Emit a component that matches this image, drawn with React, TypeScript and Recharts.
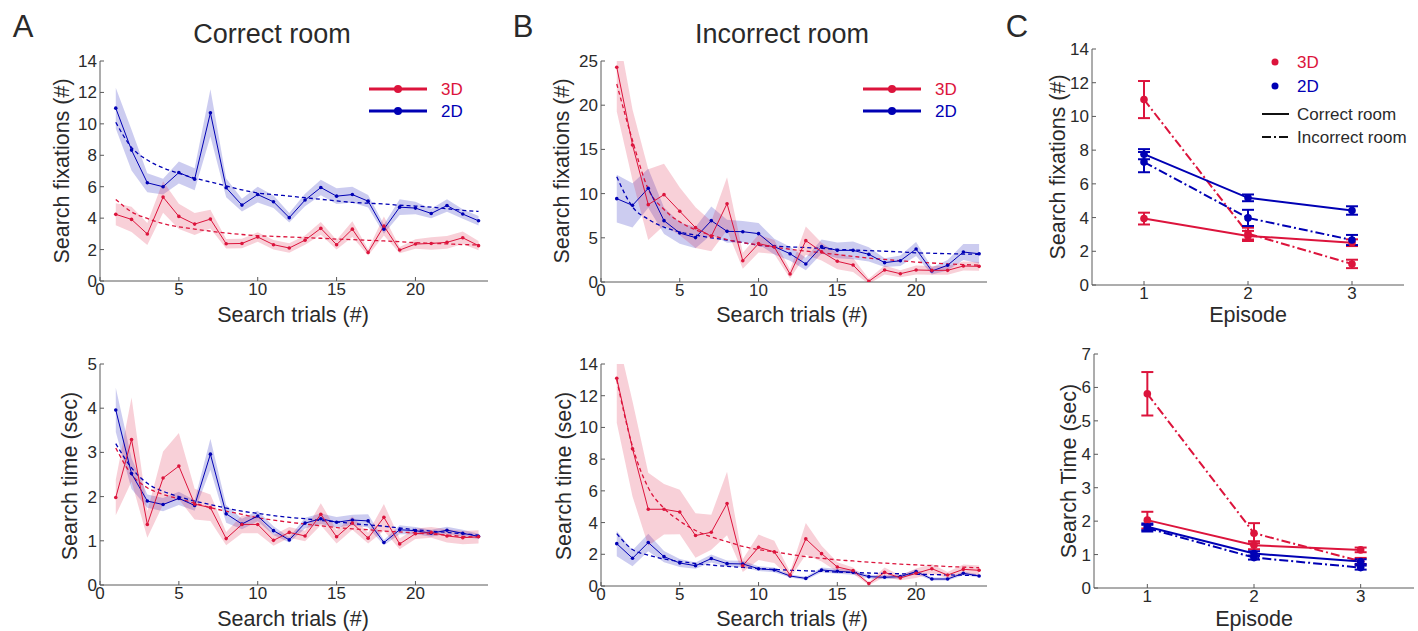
import { ComposedChart, LineChart, Line, Area, XAxis, YAxis, ErrorBar } from 'recharts';

const RED = '#dc143c';
const BLUE = '#0000b4';
const AXIS = '#5a5a5a';
const TEXT = '#2a2a2a';
const FONT = '"Liberation Sans", Arial, Helvetica, sans-serif';

// ---- trial-by-trial data (panels A and B) ----
const trials = [1, 2, 3, 4, 5, 6, 7, 8, 9, 10, 11, 12, 13, 14, 15, 16, 17, 18, 19, 20, 21, 22, 23, 24];
const trialTicks = [0, 5, 10, 15, 20];

// A top: search fixations, correct room
const fixCorr3D = [4.24, 3.92, 2.99, 5.34, 4.11, 3.62, 3.94, 2.37, 2.39, 2.8, 2.31, 2.1, 2.6, 3.35, 2.31, 3.3, 1.82, 3.5, 1.97, 2.35, 2.39, 2.46, 2.75, 2.25];
const fixCorr3DSem = [0.7, 0.8, 0.7, 1.0, 0.8, 0.7, 0.6, 0.3, 0.3, 0.3, 0.3, 0.3, 0.3, 0.4, 0.3, 0.5, 0.2, 0.6, 0.2, 0.3, 0.4, 0.4, 0.4, 0.3];
const fixCorr3DFit = [5.19, 4.4, 3.98, 3.65, 3.45, 3.3, 3.17, 3.05, 2.96, 2.88, 2.84, 2.8, 2.76, 2.72, 2.67, 2.63, 2.59, 2.55, 2.5, 2.44, 2.4, 2.36, 2.32, 2.29];
const fixCorr2D = [11.0, 8.33, 6.25, 6.0, 6.9, 6.48, 10.7, 5.93, 4.83, 5.5, 5.04, 4.03, 5.15, 5.95, 5.4, 5.5, 5.08, 3.3, 4.7, 4.64, 4.3, 4.8, 4.26, 3.83];
const fixCorr2DSem = [1.3, 1.3, 0.6, 0.5, 0.7, 0.7, 1.5, 0.6, 0.4, 0.5, 0.4, 0.3, 0.4, 0.5, 0.5, 0.5, 0.4, 0.3, 0.5, 0.4, 0.3, 0.4, 0.3, 0.3];
const fixCorr2DFit = [10.1, 8.5, 7.7, 7.2, 6.85, 6.55, 6.3, 6.05, 5.8, 5.6, 5.5, 5.4, 5.3, 5.2, 5.1, 5.0, 4.95, 4.9, 4.82, 4.77, 4.7, 4.6, 4.5, 4.43];

// A bottom: search time, correct room
const timeCorr3D = [1.98, 3.29, 1.37, 2.42, 2.69, 1.83, 1.75, 1.05, 1.37, 1.37, 1.01, 1.19, 1.11, 1.6, 1.09, 1.4, 1.06, 1.53, 0.93, 1.16, 1.19, 1.11, 1.07, 1.09];
const timeCorr3DSem = [0.4, 0.95, 0.3, 0.6, 0.75, 0.35, 0.3, 0.15, 0.2, 0.2, 0.12, 0.12, 0.12, 0.25, 0.15, 0.15, 0.12, 0.3, 0.12, 0.12, 0.12, 0.15, 0.15, 0.15];
const timeCorr3DFit = [3.1, 2.5, 2.2, 2.05, 1.95, 1.85, 1.75, 1.67, 1.6, 1.52, 1.47, 1.42, 1.38, 1.34, 1.3, 1.27, 1.25, 1.22, 1.2, 1.18, 1.15, 1.13, 1.1, 1.08];
const timeCorr2D = [3.96, 2.52, 1.9, 1.82, 1.96, 1.8, 2.96, 1.61, 1.38, 1.56, 1.23, 1.02, 1.4, 1.5, 1.42, 1.47, 1.45, 0.96, 1.25, 1.23, 1.17, 1.24, 1.17, 1.1];
const timeCorr2DSem = [0.5, 0.35, 0.15, 0.15, 0.15, 0.12, 0.35, 0.2, 0.12, 0.12, 0.1, 0.06, 0.12, 0.12, 0.12, 0.12, 0.15, 0.06, 0.1, 0.08, 0.08, 0.08, 0.08, 0.06];
const timeCorr2DFit = [3.2, 2.65, 2.3, 2.12, 2.0, 1.9, 1.82, 1.74, 1.67, 1.62, 1.57, 1.53, 1.5, 1.46, 1.43, 1.39, 1.36, 1.33, 1.29, 1.25, 1.22, 1.19, 1.16, 1.13];

// B top: search fixations, incorrect room
const fixInc3D = [24.3, 15.5, 8.75, 9.88, 8.0, 6.15, 5.17, 8.86, 2.41, 4.34, 3.96, 0.9, 4.68, 3.43, 2.34, 1.92, 0.08, 1.36, 0.94, 1.36, 1.32, 1.32, 1.81, 1.77];
const fixInc3DSem = [5.0, 4.0, 4.0, 3.5, 2.7, 2.3, 1.7, 3.0, 0.9, 1.0, 0.8, 0.5, 1.6, 1.0, 0.9, 0.8, 0.3, 0.5, 0.4, 0.5, 0.5, 0.5, 0.5, 0.5];
const fixInc3DFit = [22.4, 16.0, 10.5, 8.2, 6.8, 5.9, 5.3, 4.8, 4.45, 4.2, 3.95, 3.7, 3.5, 3.3, 3.1, 2.9, 2.7, 2.55, 2.4, 2.25, 2.15, 2.05, 1.97, 1.9];
const fixInc2D = [9.43, 8.67, 10.6, 6.94, 5.54, 5.02, 6.94, 5.73, 5.69, 5.47, 4.0, 3.2, 2.04, 4.0, 3.58, 3.58, 3.13, 2.19, 2.41, 3.73, 1.24, 1.89, 3.39, 3.2];
const fixInc2DSem = [2.7, 2.5, 2.2, 1.5, 1.2, 1.2, 1.6, 1.3, 1.2, 1.2, 0.9, 0.8, 0.7, 0.8, 0.9, 1.0, 0.8, 0.5, 0.6, 0.8, 0.4, 0.6, 0.9, 1.1];
const fixInc2DFit = [11.9, 8.5, 7.1, 6.2, 5.66, 5.3, 5.0, 4.75, 4.45, 4.15, 4.05, 3.97, 3.9, 3.8, 3.7, 3.62, 3.55, 3.48, 3.4, 3.3, 3.25, 3.2, 3.16, 3.13];

// B bottom: search time, incorrect room
const timeInc3D = [13.1, 8.65, 4.84, 4.84, 4.67, 3.18, 3.39, 5.2, 1.28, 2.44, 2.15, 0.69, 2.97, 2.04, 1.2, 0.97, 0.15, 0.86, 0.51, 0.8, 1.09, 0.69, 1.05, 0.99];
const timeInc3DSem = [2.8, 3.0, 2.3, 1.6, 1.4, 1.4, 1.1, 2.0, 0.4, 0.8, 0.7, 0.2, 1.0, 0.5, 0.3, 0.2, 0.1, 0.3, 0.15, 0.3, 0.3, 0.2, 0.3, 0.3];
const timeInc3DFit = [13.0, 8.8, 6.2, 4.9, 4.1, 3.5, 3.1, 2.8, 2.5, 2.3, 2.15, 2.0, 1.85, 1.75, 1.65, 1.58, 1.5, 1.44, 1.38, 1.33, 1.28, 1.23, 1.19, 1.15];
const timeInc2D = [2.67, 1.75, 2.74, 1.85, 1.45, 1.28, 1.73, 1.41, 1.39, 1.09, 1.01, 0.63, 0.48, 1.01, 0.93, 0.86, 0.59, 0.55, 0.59, 0.91, 0.44, 0.44, 0.8, 0.63];
const timeInc2DSem = [0.8, 0.5, 0.55, 0.35, 0.25, 0.2, 0.25, 0.2, 0.2, 0.15, 0.15, 0.1, 0.1, 0.15, 0.15, 0.15, 0.12, 0.12, 0.12, 0.15, 0.1, 0.1, 0.12, 0.1];
const timeInc2DFit = [3.3, 2.3, 1.95, 1.7, 1.55, 1.42, 1.32, 1.24, 1.17, 1.1, 1.05, 1.0, 0.96, 0.92, 0.88, 0.85, 0.82, 0.79, 0.77, 0.74, 0.72, 0.7, 0.68, 0.66];

// ---- per-episode data (panel C) ----
const episodes = [1, 2, 3];
const epFix3DCorr = [3.94, 2.91, 2.51];
const epFix3DCorrErr = [0.35, 0.3, 0.2];
const epFix3DInc = [11.0, 3.05, 1.25];
const epFix3DIncErr = [1.1, 0.35, 0.25];
const epFix2DCorr = [7.76, 5.17, 4.42];
const epFix2DCorrErr = [0.3, 0.2, 0.25];
const epFix2DInc = [7.29, 3.98, 2.67];
const epFix2DIncErr = [0.6, 0.48, 0.3];

const epTime3DCorr = [2.03, 1.28, 1.14];
const epTime3DCorrErr = [0.25, 0.12, 0.07];
const epTime3DInc = [5.81, 1.64, 0.8];
const epTime3DIncErr = [0.65, 0.3, 0.1];
const epTime2DCorr = [1.83, 1.03, 0.79];
const epTime2DCorrErr = [0.1, 0.07, 0.07];
const epTime2DInc = [1.79, 0.91, 0.61];
const epTime2DIncErr = [0.1, 0.06, 0.06];

const DASH_DOT = '9 3 2 3';

function trialRows(m3: number[], s3: number[], f3: number[], m2: number[], s2: number[], f2: number[]) {
  return trials.map((t, i) => ({
    t,
    m3: m3[i],
    b3: [m3[i] - s3[i], m3[i] + s3[i]],
    f3: f3[i],
    m2: m2[i],
    b2: [m2[i] - s2[i], m2[i] + s2[i]],
    f2: f2[i],
  }));
}

function epRows(v: number[], e: number[]) {
  return episodes.map((ep, i) => ({ ep, v: v[i], e: e[i] }));
}

const tickStyle = { fill: TEXT, fontSize: 17, fontFamily: FONT };

interface TrialProps {
  x: number;
  y: number;
  w: number;
  h: number;
  xMax: number;
  yMax: number;
  yTicks: number[];
  rows: ReturnType<typeof trialRows>;
}

function TrialPanel({ x, y, w, h, xMax, yMax, yTicks, rows }: TrialProps) {
  return (
    <div style={{ position: 'absolute', left: x - 50, top: y - 10 }}>
      <ComposedChart width={w + 60} height={h + 50} data={rows} margin={{ top: 10, right: 10, left: 0, bottom: 0 }}>
        <XAxis
          dataKey="t"
          type="number"
          domain={[0, xMax]}
          ticks={trialTicks}
          allowDataOverflow
          height={40}
          tickSize={-4}
          tickMargin={6}
          stroke={AXIS}
          tick={tickStyle}
        />
        <YAxis
          type="number"
          domain={[0, yMax]}
          ticks={yTicks}
          allowDataOverflow
          width={50}
          tickSize={-4}
          tickMargin={7}
          stroke={AXIS}
          tick={tickStyle}
        />
        <Area dataKey="b2" type="linear" stroke="none" fill={BLUE} fillOpacity={0.2} isAnimationActive={false} />
        <Area dataKey="b3" type="linear" stroke="none" fill={RED} fillOpacity={0.2} isAnimationActive={false} />
        <Line dataKey="f2" type="monotone" stroke={BLUE} strokeWidth={1.3} strokeDasharray="4 3" dot={false} isAnimationActive={false} />
        <Line dataKey="f3" type="monotone" stroke={RED} strokeWidth={1.3} strokeDasharray="4 3" dot={false} isAnimationActive={false} />
        <Line dataKey="m2" type="linear" stroke={BLUE} strokeWidth={1} dot={{ r: 1.8, fill: BLUE, stroke: 'none' }} isAnimationActive={false} />
        <Line dataKey="m3" type="linear" stroke={RED} strokeWidth={1} dot={{ r: 1.8, fill: RED, stroke: 'none' }} isAnimationActive={false} />
      </ComposedChart>
    </div>
  );
}

interface EpSeries {
  name: string;
  color: string;
  dash?: string;
  rows: ReturnType<typeof epRows>;
}

interface EpProps {
  x: number;
  y: number;
  w: number;
  h: number;
  yMax: number;
  yTicks: number[];
  series: EpSeries[];
}

function EpisodePanel({ x, y, w, h, yMax, yTicks, series }: EpProps) {
  return (
    <div style={{ position: 'absolute', left: x - 50, top: y - 10 }}>
      <LineChart width={w + 60} height={h + 50} margin={{ top: 10, right: 10, left: 0, bottom: 0 }}>
        <XAxis
          dataKey="ep"
          type="number"
          domain={[0.5, 3.5]}
          ticks={episodes}
          allowDataOverflow
          height={40}
          tickSize={-4}
          tickMargin={6}
          stroke={AXIS}
          tick={tickStyle}
        />
        <YAxis
          type="number"
          domain={[0, yMax]}
          ticks={yTicks}
          allowDataOverflow
          width={50}
          tickSize={-4}
          tickMargin={7}
          stroke={AXIS}
          tick={tickStyle}
        />
        {series.map((s) => (
          <Line
            key={s.name}
            data={s.rows}
            dataKey="v"
            name={s.name}
            type="linear"
            stroke={s.color}
            strokeWidth={2}
            strokeDasharray={s.dash}
            dot={{ r: 3.8, fill: s.color, stroke: 'none' }}
            isAnimationActive={false}
          >
            <ErrorBar dataKey="e" width={6} stroke={s.color} strokeWidth={2} direction="y" />
          </Line>
        ))}
      </LineChart>
    </div>
  );
}

function Label({ text, cx, cy, size, rotate, color = TEXT }: { text: string; cx: number; cy: number; size: number; rotate?: boolean; color?: string }) {
  return (
    <div
      style={{
        position: 'absolute',
        left: cx,
        top: cy,
        transform: `translate(-50%, -50%)${rotate ? ' rotate(-90deg)' : ''}`,
        whiteSpace: 'nowrap',
        fontSize: size,
        color,
        lineHeight: 1,
      }}
    >
      {text}
    </div>
  );
}

function TrialLegend({ x }: { x: number }) {
  return (
    <svg style={{ position: 'absolute', left: x, top: 78 }} width={120} height={44}>
      <line x1={9} x2={67} y1={11} y2={11} stroke={RED} strokeWidth={3} />
      <circle cx={38} cy={11} r={4} fill={RED} />
      <text x={81} y={11} dominantBaseline="central" fontSize={17} fill={RED} fontFamily={FONT}>3D</text>
      <line x1={9} x2={67} y1={33} y2={33} stroke={BLUE} strokeWidth={3} />
      <circle cx={38} cy={33} r={4} fill={BLUE} />
      <text x={81} y={33} dominantBaseline="central" fontSize={17} fill={BLUE} fontFamily={FONT}>2D</text>
    </svg>
  );
}

function EpisodeLegend() {
  return (
    <svg style={{ position: 'absolute', left: 1255, top: 50 }} width={163} height={100}>
      <circle cx={20} cy={12} r={3.5} fill={RED} />
      <text x={42} y={12} dominantBaseline="central" fontSize={17} fill={RED} fontFamily={FONT}>3D</text>
      <circle cx={20} cy={36} r={3.5} fill={BLUE} />
      <text x={42} y={36} dominantBaseline="central" fontSize={17} fill={BLUE} fontFamily={FONT}>2D</text>
      <line x1={7} x2={34} y1={64} y2={64} stroke="#111" strokeWidth={2} />
      <text x={42} y={64} dominantBaseline="central" fontSize={17} fill={TEXT} fontFamily={FONT}>Correct room</text>
      <line x1={7} x2={34} y1={87} y2={87} stroke="#111" strokeWidth={2} strokeDasharray={DASH_DOT} />
      <text x={42} y={87} dominantBaseline="central" fontSize={17} fill={TEXT} fontFamily={FONT}>Incorrect room</text>
    </svg>
  );
}

export default function App() {
  const fixCorrRows = trialRows(fixCorr3D, fixCorr3DSem, fixCorr3DFit, fixCorr2D, fixCorr2DSem, fixCorr2DFit);
  const timeCorrRows = trialRows(timeCorr3D, timeCorr3DSem, timeCorr3DFit, timeCorr2D, timeCorr2DSem, timeCorr2DFit);
  const fixIncRows = trialRows(fixInc3D, fixInc3DSem, fixInc3DFit, fixInc2D, fixInc2DSem, fixInc2DFit);
  const timeIncRows = trialRows(timeInc3D, timeInc3DSem, timeInc3DFit, timeInc2D, timeInc2DSem, timeInc2DFit);

  const fixEpisode: EpSeries[] = [
    { name: '3D correct', color: RED, rows: epRows(epFix3DCorr, epFix3DCorrErr) },
    { name: '3D incorrect', color: RED, dash: DASH_DOT, rows: epRows(epFix3DInc, epFix3DIncErr) },
    { name: '2D correct', color: BLUE, rows: epRows(epFix2DCorr, epFix2DCorrErr) },
    { name: '2D incorrect', color: BLUE, dash: DASH_DOT, rows: epRows(epFix2DInc, epFix2DIncErr) },
  ];
  const timeEpisode: EpSeries[] = [
    { name: '3D correct', color: RED, rows: epRows(epTime3DCorr, epTime3DCorrErr) },
    { name: '3D incorrect', color: RED, dash: DASH_DOT, rows: epRows(epTime3DInc, epTime3DIncErr) },
    { name: '2D correct', color: BLUE, rows: epRows(epTime2DCorr, epTime2DCorrErr) },
    { name: '2D incorrect', color: BLUE, dash: DASH_DOT, rows: epRows(epTime2DInc, epTime2DIncErr) },
  ];

  return (
    <div style={{ position: 'absolute', left: 0, top: 0, width: 1418, height: 631, background: '#fff', fontFamily: FONT, color: TEXT }}>
      <Label text="A" cx={23} cy={26} size={31} />
      <Label text="B" cx={523} cy={26} size={31} />
      <Label text="C" cx={1017} cy={26} size={31} />
      <Label text="Correct room" cx={272} cy={34} size={27} />
      <Label text="Incorrect room" cx={782} cy={34} size={27} />

      <TrialPanel x={100} y={61} w={388} h={220} xMax={24.6} yMax={14} yTicks={[0, 2, 4, 6, 8, 10, 12, 14]} rows={fixCorrRows} />
      <TrialPanel x={100} y={364} w={388} h={221} xMax={24.6} yMax={5} yTicks={[0, 1, 2, 3, 4, 5]} rows={timeCorrRows} />
      <TrialPanel x={601} y={61} w={386} h={221} xMax={24.5} yMax={25} yTicks={[0, 5, 10, 15, 20, 25]} rows={fixIncRows} />
      <TrialPanel x={601} y={364} w={386} h={222} xMax={24.5} yMax={14} yTicks={[0, 2, 4, 6, 8, 10, 12, 14]} rows={timeIncRows} />
      <EpisodePanel x={1092} y={49} w={312} h={236} yMax={14} yTicks={[0, 2, 4, 6, 8, 10, 12, 14]} series={fixEpisode} />
      <EpisodePanel x={1094} y={354} w={320} h={234} yMax={7} yTicks={[0, 1, 2, 3, 4, 5, 6, 7]} series={timeEpisode} />

      <TrialLegend x={360} />
      <TrialLegend x={854} />
      <EpisodeLegend />

      <Label text="Search fixations (#)" cx={63} cy={171} size={21.5} rotate />
      <Label text="Search time (sec)" cx={71} cy={476} size={21.5} rotate />
      <Label text="Search fixations (#)" cx={563} cy={171} size={21.5} rotate />
      <Label text="Search time (sec)" cx={565} cy={476} size={21.5} rotate />
      <Label text="Search fixations (#)" cx={1059} cy={167} size={21.5} rotate />
      <Label text="Search Time (sec)" cx={1070} cy={471} size={21.5} rotate />

      <Label text="Search trials (#)" cx={293} cy={316} size={21.5} />
      <Label text="Search trials (#)" cx={792} cy={316} size={21.5} />
      <Label text="Episode" cx={1248} cy={316} size={21.5} />
      <Label text="Search trials (#)" cx={293} cy={620} size={21.5} />
      <Label text="Search trials (#)" cx={792} cy={620} size={21.5} />
      <Label text="Episode" cx={1254} cy={620} size={21.5} />
    </div>
  );
}
